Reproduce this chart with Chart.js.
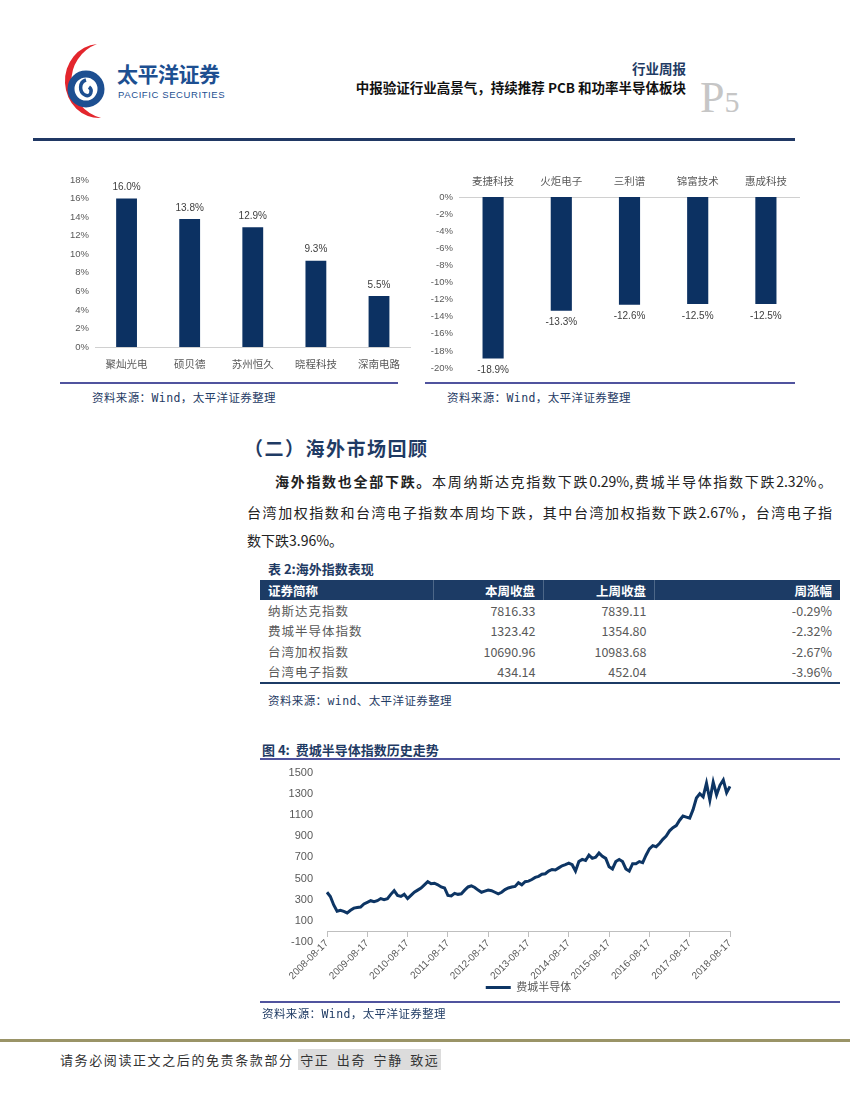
<!DOCTYPE html>
<html>
<head>
<meta charset="utf-8">
<script src="https://cdn.jsdelivr.net/npm/chart.js@4.4.0/dist/chart.umd.min.js"></script>
<style>
  body { margin: 0; width: 850px; height: 1100px; position: relative; background: #fff; overflow: hidden;
         font-family: "Noto Sans CJK SC", sans-serif; }
  .abs { position: absolute; white-space: nowrap; }
  .src { font-size: 11.5px; letter-spacing: 0.4px; color: #1f3b64; font-family: "DejaVu Sans Mono", "Noto Sans CJK SC", monospace; }
  .rule { position: absolute; height: 2px; background: #50539e; }
  .para { position: absolute; font-size: 14px; color: #222; line-height: 20px; text-align: justify; text-align-last: justify; }
  table { position: absolute; left: 260px; top: 580px; width: 580px; border-collapse: collapse; font-size: 12px; }
  th { background: #1c3b65; color: #fff; height: 20px; padding: 0 8px; font-weight: bold; font-size: 12.5px;
       border-left: 1px solid #4d6788; }
  th:first-child { border-left: none; text-align: left; }
  td { height: 20.5px; padding: 0 8px; color: #595959; font-size: 12.5px; }
  td.n, th.n { text-align: right; }
  td.nm { letter-spacing: 1px; }
  tbody tr:last-child td { border-bottom: 2px solid #1c3b65; }
</style>
</head>
<body>

<!-- header -->
<svg class="abs" style="left:55px;top:40px" width="70" height="82" viewBox="0 0 70 82">
  <path d="M42 4 A40 39 0 0 0 46 78 A34 37 0 0 1 42 4 Z" fill="#e3262d"/>
  <circle cx="31" cy="49" r="15" fill="none" stroke="#1d4f91" stroke-width="7"/>
  <path d="M31 40 C24 42 24 52 30 55 C36 58 38 50 34 47" fill="none" stroke="#1d4f91" stroke-width="3.5"/>
</svg>
<div class="abs" style="left:117px;top:58px;font-size:21px;font-weight:bold;color:#1d4f91;letter-spacing:-0.5px">太平洋证券</div>
<div class="abs" style="left:118px;top:89px;font-size:9.5px;color:#1d4f91;letter-spacing:0.6px;font-family:'Liberation Sans',sans-serif">PACIFIC SECURITIES</div>
<div class="abs" style="right:164px;top:58px;font-size:13.5px;font-weight:bold;color:#1f3b64">行业周报</div>
<div class="abs" style="right:164px;top:77px;font-size:13.5px;font-weight:bold;color:#111">中报验证行业高景气，持续推荐 PCB 和功率半导体板块</div>
<div class="abs" style="left:700px;top:72px;font-family:'Liberation Serif',serif;color:#c6c6c6"><span style="font-size:44px">P</span><span style="font-size:30px">5</span></div>
<div class="abs" style="left:33px;top:138px;width:762px;height:3px;background:#203864"></div>

<!-- top bar charts -->
<canvas id="leftBar" class="abs" style="left:60px;top:168px" width="352" height="206"></canvas>
<canvas id="rightBar" class="abs" style="left:420px;top:168px" width="380" height="214"></canvas>
<div class="rule" style="left:60px;top:382px;width:338px"></div>
<div class="rule" style="left:425px;top:382px;width:370px"></div>
<div class="abs src" style="left:92px;top:389px">资料来源：Wind，太平洋证券整理</div>
<div class="abs src" style="left:447px;top:389px">资料来源：Wind，太平洋证券整理</div>

<!-- section text -->
<div class="abs" style="left:244px;top:434px;font-size:19px;font-weight:bold;color:#1f3b64;letter-spacing:1.5px">（二）海外市场回顾</div>
<div class="para" style="left:275px;top:471px;width:557px"><b>海外指数也全部下跌。</b>本周纳斯达克指数下跌0.29%,费城半导体指数下跌2.32%。</div>
<div class="para" style="left:247px;top:502px;width:585px">台湾加权指数和台湾电子指数本周均下跌，其中台湾加权指数下跌2.67%，台湾电子指</div>
<div class="para" style="left:247px;top:530px;text-align-last:left">数下跌3.96%。</div>

<!-- table -->
<div class="abs" style="left:268px;top:559px;font-size:13px;font-weight:bold;color:#1f3b64">表 2:海外指数表现</div>
<table>
  <thead><tr><th style="width:157px">证券简称</th><th class="n" style="width:93px">本周收盘</th><th class="n" style="width:94px">上周收盘</th><th class="n">周涨幅</th></tr></thead>
  <tbody id="tbody"></tbody>
</table>
<div class="abs src" style="left:268px;top:692px">资料来源：wind、太平洋证券整理</div>

<!-- figure 4 -->
<div class="abs" style="left:262px;top:740px;font-size:13px;font-weight:bold;color:#1f3b64">图 4:&nbsp; 费城半导体指数历史走势</div>
<div class="rule" style="left:260px;top:758px;width:580px"></div>
<canvas id="sox" class="abs" style="left:255px;top:760px" width="490" height="243"></canvas>
<div class="rule" style="left:260px;top:1001px;width:580px"></div>
<div class="abs src" style="left:262px;top:1005px">资料来源：Wind，太平洋证券整理</div>

<!-- footer -->
<div class="abs" style="left:0;top:1039px;width:850px;height:3px;background:#9a9467"></div>
<div class="abs" style="left:60px;top:1050px;font-size:13px;letter-spacing:1.6px;color:#333">请务必阅读正文之后的免责条款部分 <span style="background:#dcdcdc;padding:1px 2px;word-spacing:3px">守正 出奇 宁静 致远</span></div>

<script>
// top-left chart: gainers
const leftCats = ['聚灿光电', '硕贝德', '苏州恒久', '晓程科技', '深南电路'];
const leftVals = [16.0, 13.8, 12.9, 9.3, 5.5];
const leftTicks = ['0%', '2%', '4%', '6%', '8%', '10%', '12%', '14%', '16%', '18%'];

// top-right chart: losers
const rightCats = ['麦捷科技', '火炬电子', '三利谱', '锦富技术', '惠成科技'];
const rightVals = [-18.9, -13.3, -12.6, -12.5, -12.5];
const rightTicks = ['0%', '-2%', '-4%', '-6%', '-8%', '-10%', '-12%', '-14%', '-16%', '-18%', '-20%'];

// table 2
const idxNames = ['纳斯达克指数', '费城半导体指数', '台湾加权指数', '台湾电子指数'];
const idxThisWeek = ['7816.33', '1323.42', '10690.96', '434.14'];
const idxLastWeek = ['7839.11', '1354.80', '10983.68', '452.04'];
const idxChange = ['-0.29%', '-2.32%', '-2.67%', '-3.96%'];

// figure 4: SOX monthly, 2008-08 .. 2018-08
const soxTicks = ['2008-08-17', '2009-08-17', '2010-08-17', '2011-08-17', '2012-08-17', '2013-08-17',
                  '2014-08-17', '2015-08-17', '2016-08-17', '2017-08-17', '2018-08-17'];
const soxVals = [
  370, 330, 250, 190, 200,
  190, 175, 200, 220, 225, 230, 260, 275, 290, 280, 290, 310,
  300, 310, 350, 385, 340, 330, 350, 310, 340, 370, 390, 410,
  440, 470, 450, 455, 440, 420, 410, 340, 335, 360, 350, 355,
  390, 420, 430, 415, 390, 370, 380, 390, 385, 370, 355, 370,
  395, 410, 420, 425, 460, 440, 470, 475, 490, 510, 520, 540,
  545, 570, 585, 580, 600, 620, 630, 645, 630, 570, 660, 680,
  670, 720, 690, 700, 740, 710, 690, 610, 590, 660, 680, 660,
  590, 570, 640, 640, 660, 650, 720, 780, 810, 800, 830, 870,
  900, 950, 980, 1000, 1050, 1090, 1080, 1070, 1150, 1260, 1300, 1270,
  1400, 1240, 1410, 1290, 1380, 1430, 1310, 1370
];

const NAVY = '#0c3162';
const GREY = '#595959';
const LATIN = '"Liberation Sans", "Noto Sans CJK SC", sans-serif';

// fill the table
const tb = document.getElementById('tbody');
idxNames.forEach((n, i) => {
    const tr = document.createElement('tr');
    tr.innerHTML = `<td class="nm">${n}</td><td class="n">${idxThisWeek[i]}</td><td class="n">${idxLastWeek[i]}</td><td class="n">${idxChange[i]}</td>`;
    tb.appendChild(tr);
});

// value labels on bars
const barLabels = {
    id: 'barLabels',
    afterDatasetsDraw(chart) {
        const ctx = chart.ctx;
        const vals = chart.data.datasets[0].data;
        ctx.save();
        ctx.font = '10px ' + LATIN;
        ctx.fillStyle = '#404040';
        ctx.textAlign = 'center';
        chart.getDatasetMeta(0).data.forEach((bar, i) => {
            const txt = vals[i].toFixed(1) + '%';
            if (vals[i] >= 0) {
                ctx.textBaseline = 'bottom';
                ctx.fillText(txt, bar.x, bar.y - 6);
            } else {
                ctx.textBaseline = 'top';
                ctx.fillText(txt, bar.x, bar.y + 7);
            }
        });
        ctx.restore();
    }
};

Chart.defaults.animation = false;
Chart.defaults.font.family = LATIN;

new Chart(document.getElementById('leftBar'), {
    type: 'bar',
    data: { labels: leftCats, datasets: [{ data: leftVals, backgroundColor: NAVY, categoryPercentage: 1, barPercentage: 0.33 }] },
    options: {
        responsive: false,
        layout: { padding: { top: 12, left: 0, right: 0, bottom: 0 } },
        plugins: { legend: { display: false }, tooltip: { enabled: false } },
        scales: {
            x: {
                grid: { display: false, drawTicks: false },
                border: { display: true, color: '#d0d0d0' },
                ticks: { color: GREY, font: { size: 10.5 }, padding: 12 },
                afterFit: s => { s.height = 27; }
            },
            y: {
                min: 0, max: 18,
                grid: { display: false, drawTicks: false },
                border: { display: false },
                ticks: { stepSize: 2, color: GREY, font: { size: 9.5 }, padding: 6, callback: (v, i) => leftTicks[i] },
                afterFit: s => { s.width = 35; }
            }
        }
    },
    plugins: [barLabels]
});

new Chart(document.getElementById('rightBar'), {
    type: 'bar',
    data: { labels: rightCats, datasets: [{ data: rightVals, backgroundColor: NAVY, categoryPercentage: 1, barPercentage: 0.31 }] },
    options: {
        responsive: false,
        layout: { padding: { top: 0, left: 0, right: 0, bottom: 14 } },
        plugins: { legend: { display: false }, tooltip: { enabled: false } },
        scales: {
            x: {
                position: 'top',
                grid: { display: false, drawTicks: false },
                border: { display: true, color: '#d0d0d0' },
                ticks: { color: GREY, font: { size: 10.5 }, padding: 9 },
                afterFit: s => { s.height = 29; }
            },
            y: {
                min: -20, max: 0,
                grid: { display: false, drawTicks: false },
                border: { display: false },
                ticks: { stepSize: 2, color: GREY, font: { size: 9.5 }, padding: 6, callback: (v, i) => rightTicks[rightTicks.length - 1 - i] },
                afterFit: s => { s.width = 39; }
            }
        }
    },
    plugins: [barLabels]
});

// month labels for the category axis; only August ones are shown
const soxLabels = soxVals.map((v, i) => {
    const m = 7 + i;
    const yr = 2008 + Math.floor(m / 12);
    const mo = (m % 12) + 1;
    return yr + '-' + String(mo).padStart(2, '0') + '-17';
});

new Chart(document.getElementById('sox'), {
    type: 'line',
    data: {
        labels: soxLabels,
        datasets: [{
            label: '费城半导体',
            data: soxVals,
            borderColor: '#0d3564',
            backgroundColor: '#0d3564',
            borderWidth: 3,
            pointRadius: 0,
            tension: 0
        }]
    },
    options: {
        responsive: false,
        layout: { padding: { top: 11, left: 0, right: 15, bottom: 0 } },
        plugins: {
            tooltip: { enabled: false },
            legend: {
                position: 'bottom',
                fullSize: false,
                labels: { color: GREY, font: { size: 11 }, usePointStyle: true, pointStyle: 'line', pointStyleWidth: 25, padding: 40 }
            }
        },
        scales: {
            x: {
                position: { y: 0 },
                offset: false,
                grid: { display: true, drawOnChartArea: false, drawTicks: true, tickLength: 5, color: '#bfbfbf' },
                border: { display: true, color: '#bfbfbf' },
                ticks: {
                    autoSkip: false, minRotation: 45, maxRotation: 45, color: GREY, font: { size: 10 }, padding: 1,
                    callback: function (v) {
                        const lab = this.getLabelForValue(v);
                        return soxTicks.includes(lab) ? lab : null;
                    }
                },
                afterFit: s => { s.height = 0; }
            },
            y: {
                min: -100, max: 1500,
                grid: { display: false },
                border: { display: false },
                ticks: { stepSize: 200, color: GREY, font: { size: 11 }, padding: 6, callback: v => String(v) },
                afterFit: s => { s.width = 72; }
            }
        }
    }
});
</script>
</body>
</html>
